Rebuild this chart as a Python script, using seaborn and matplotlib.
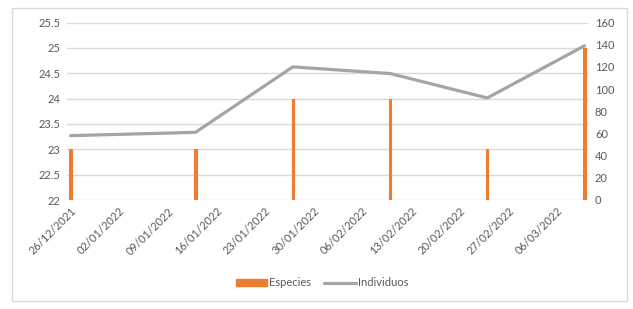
import matplotlib as mtl
mtl.use('Agg')
import matplotlib.pyplot as plt
import matplotlib.dates as mdates
from matplotlib.patches import Patch, Rectangle
from matplotlib.lines import Line2D
import numpy as np
import pandas as pd
import seaborn as sns

fechas = ["26/12/2021", "13/01/2022", "27/01/2022", "10/02/2022", "24/02/2022", "10/03/2022"]
especies = [23, 23, 24, 24, 23, 25]
individuos = [58, 61, 120, 114, 92, 139]
tick_fechas = ["26/12/2021", "02/01/2022", "09/01/2022", "16/01/2022", "23/01/2022", "30/01/2022",
               "06/02/2022", "13/02/2022", "20/02/2022", "27/02/2022", "06/03/2022"]

naranja = "#ED7D31"
gris = "#A5A5A5"
texto = "#595959"
rejilla = "#D9D9D9"

sns.set_style("white")
plt.rcParams['font.family'] = ['Lato', 'DejaVu Sans']

df = pd.DataFrame({
    "fecha": pd.to_datetime(fechas, format="%d/%m/%Y"),
    "especies": especies,
    "individuos": individuos,
})
ticks = pd.to_datetime(tick_fechas, format="%d/%m/%Y")

fig = plt.figure(figsize=(6.33, 3.09), dpi=100)
ax = fig.add_axes([67 / 633, 1 - 200 / 309, (588 - 67) / 633, (200 - 22.5) / 309])
ax2 = ax.twinx()

# bars (left axis) - thin Excel-style columns
ax.bar(df["fecha"], df["especies"], width=0.3, color=naranja, edgecolor=naranja,
       linewidth=0.8, zorder=2)
ax.set_ylim(22, 25.5)
ax.set_yticks(np.arange(22, 25.51, 0.5))
ax.set_yticklabels(["22", "22.5", "23", "23.5", "24", "24.5", "25", "25.5"])

# line (right axis)
sns.lineplot(data=df, x="fecha", y="individuos", ax=ax2, color=gris, linewidth=2.3, zorder=3)
ax2.set_ylim(0, 160)
ax2.set_yticks(range(0, 161, 20))
ax2.set_ylabel("")
ax2.set_xlabel("")

ax.set_xlim(df["fecha"].iloc[0] - pd.Timedelta(hours=12), df["fecha"].iloc[-1] + pd.Timedelta(hours=12))
ax.set_xticks(ticks)
ax.xaxis.set_major_formatter(mdates.DateFormatter("%d/%m/%Y"))
for lbl in ax.get_xticklabels():
    lbl.set_rotation(45)
    lbl.set_ha("right")
    lbl.set_rotation_mode("anchor")

ax.yaxis.grid(True, color=rejilla, linewidth=1)
ax.set_axisbelow(True)
for a in (ax, ax2):
    for s in a.spines.values():
        s.set_visible(False)
    a.tick_params(length=0, labelsize=8, colors=texto, pad=5)
ax.set_xlabel("")
ax.set_ylabel("")
ax.tick_params(axis="x", pad=4)

handles = [Patch(facecolor=naranja, edgecolor=naranja),
           Line2D([0], [0], color=gris, linewidth=2.3)]
fig.legend(handles, ["Especies", "Individuos"], loc="center", bbox_to_anchor=(322 / 633, 1 - 283 / 309),
           ncol=2, frameon=False, fontsize=8, labelcolor=texto, handlelength=2.8, handleheight=0.5,
           columnspacing=1.2, handletextpad=0.2)

fig.patches.append(Rectangle((12 / 633, 1 - 301 / 309), (627 - 12) / 633, (301 - 8) / 309,
                             transform=fig.transFigure, fill=False, edgecolor=rejilla, linewidth=1))

fig.savefig("out.png", dpi=100, facecolor="white")
